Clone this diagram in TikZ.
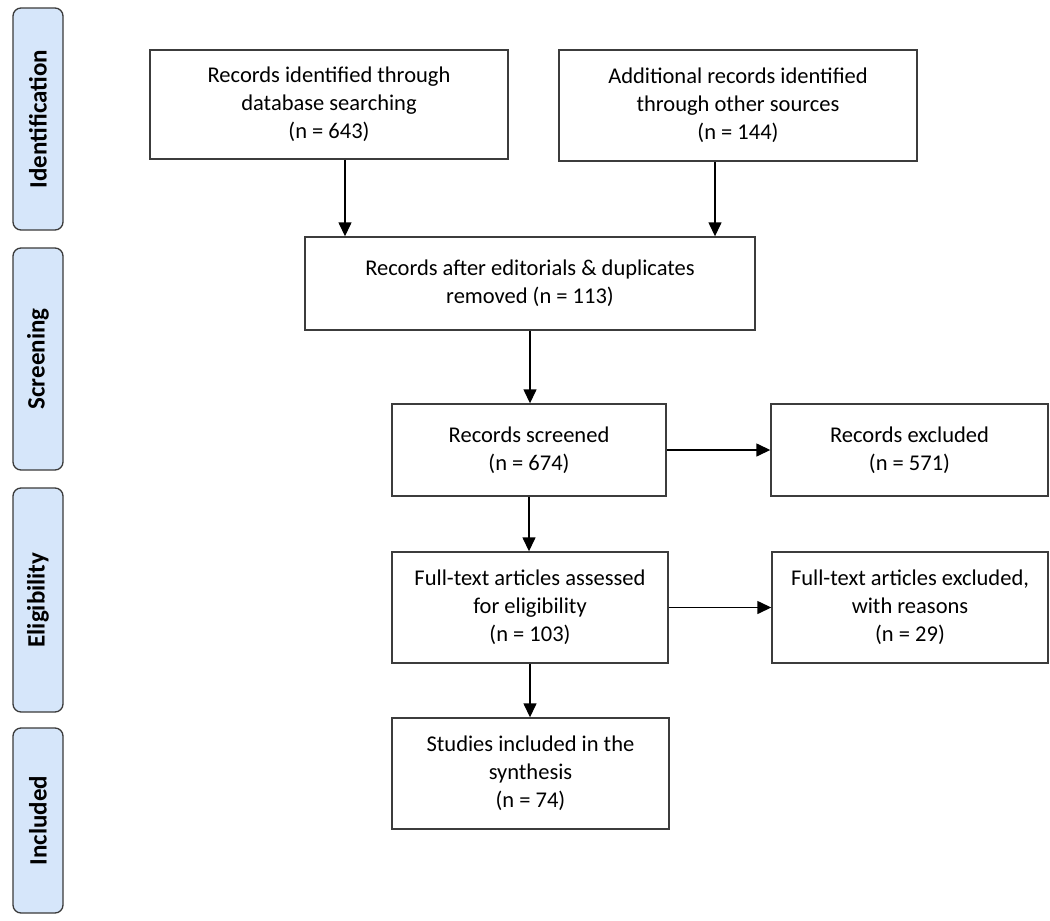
\documentclass[tikz,border=0pt]{standalone}
\usepackage{fontspec}
\setmainfont{Carlito}
\usetikzlibrary{arrows.meta,calc}
\definecolor{sidefill}{HTML}{D6E6FA}
\definecolor{sideline}{HTML}{3A3A3A}
\definecolor{boxline}{HTML}{3C3C3C}
\begin{document}
\begin{tikzpicture}[x=1pt,y=-1pt,
  flowbox/.style={draw=boxline,line width=1.4pt,fill=white,inner sep=0pt,align=center,
    font=\fontsize{22.5}{28}\selectfont},
  sidebox/.style={draw=sideline,line width=1.3pt,fill=sidefill,rounded corners=8pt,
    rotate=90,inner sep=0pt,minimum height=50pt,font=\fontsize{25}{28}\selectfont\bfseries},
  arr/.style={line width=1.4pt,draw=black,-{Triangle[length=14pt,width=13pt]}}]
\useasboundingbox (0,0) rectangle (1050,921);
% side stages
\node[sidebox,minimum width=222pt] (sid) at (38,119) {Identification};
\node[sidebox,minimum width=222pt] (sscr) at (38,359) {Screening};
\node[sidebox,minimum width=224pt] (selig) at (38,600) {Eligibility};
\node[sidebox,minimum width=185pt] (sinc) at (38,820.5) {Included};
% flow boxes
\node[flowbox,minimum width=358pt,minimum height=109pt] (db) at (329,104.5)
  {Records identified through\\database searching\\(n = 643)};
\node[flowbox,minimum width=358pt,minimum height=111pt] (add) at (738,105.5)
  {Additional records identified\\through other sources\\(n = 144)};
\node[flowbox,minimum width=450pt,minimum height=93pt] (dup) at (530,283.5)
  {Records after editorials \& duplicates\\removed (n = 113)};
\node[flowbox,minimum width=274pt,minimum height=92pt] (scr) at (529,450)
  {Records screened\\(n = 674)};
\node[flowbox,minimum width=277pt,minimum height=92pt] (exc) at (909.5,450)
  {Records excluded\\(n = 571)};
\node[flowbox,minimum width=276pt,minimum height=111pt] (full) at (530,607.5)
  {Full-text articles assessed\\for eligibility\\(n = 103)};
\node[flowbox,minimum width=276pt,minimum height=111pt] (fexc) at (910,607.5)
  {Full-text articles excluded,\\with reasons\\(n = 29)};
\node[flowbox,minimum width=277pt,minimum height=111pt] (inc) at (530.5,773.5)
  {Studies included in the\\synthesis\\(n = 74)};
% connectors
\draw[arr] ([xshift=16pt]db.south) -- ([xshift=16pt]db.south |- dup.north);
\draw[arr] ([xshift=-23pt]add.south) -- ([xshift=-23pt]add.south |- dup.north);
\draw[arr] (dup.south) -- (dup.south |- scr.north);
\draw[arr] (scr.east) -- (exc.west);
\draw[arr] (scr.south) -- (scr.south |- full.north);
\draw[arr] (full.east) -- (full.east -| fexc.west);
\draw[arr] (full.south) -- (full.south |- inc.north);
\end{tikzpicture}
\end{document}
